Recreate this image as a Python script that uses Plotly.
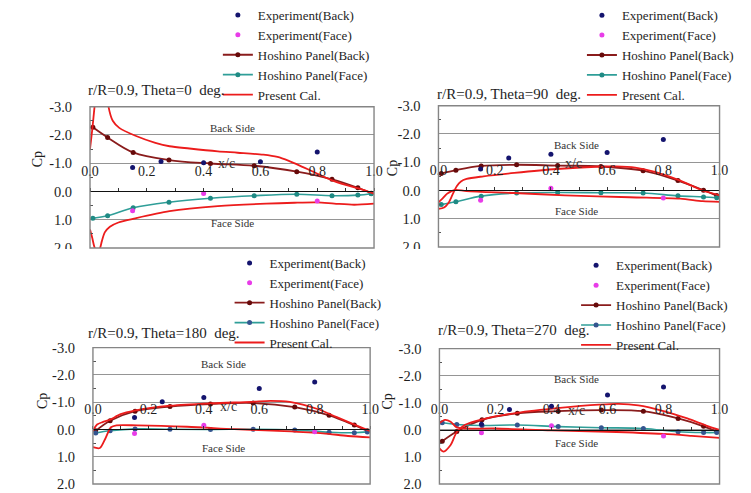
import plotly.graph_objects as go

W, H = 751, 493

# ---------------- data ----------------
y_tick_vals = [-3, -2, -1, 0, 1, 2]
y_tick_text = ["-3.0", "-2.0", "-1.0", "0.0", "1.0", "2.0"]
y_minor_vals = [-2.5, -1.5, -0.5, 0.5, 1.5]
x_tick_vals = [0.0, 0.2, 0.4, 0.6, 0.8, 1.0]
x_tick_text = ["0.0", "0.2", "0.4", "0.6", "0.8", "1.0"]
x_minor_vals = [0.1, 0.3, 0.5, 0.7, 0.9]

exp_back_x = [0.15, 0.25, 0.40, 0.60, 0.80]
exp_face_x = [0.15, 0.40, 0.80]
hoshino_x = [0.01, 0.062, 0.152, 0.278, 0.424, 0.578, 0.728, 0.852, 0.943, 0.99]

# Theta = 0 deg
exp_back_cp_0 = [-0.85, -1.06, -1.02, -1.05, -1.40]
exp_face_cp_0 = [0.68, 0.07, 0.34]
hoshino_back_cp_0 = [-2.27, -1.91, -1.38, -1.11, -0.99, -0.91, -0.70, -0.43, -0.13, 0.06]
hoshino_face_cp_0 = [0.95, 0.86, 0.58, 0.38, 0.24, 0.15, 0.10, 0.15, 0.13, 0.08]
present_back_x_0 = [0.0, 0.008, 0.016, 0.025, 0.04, 0.055, 0.065, 0.08, 0.103, 0.16, 0.23, 0.28,
                    0.35, 0.45, 0.52, 0.61, 0.66, 0.70, 0.75, 0.79, 0.85, 0.90, 0.94, 0.97, 1.0]
present_back_cp_0 = [-1.5, -2.2, -3.0, -3.8, -4.4, -3.9, -3.0, -2.5, -2.25, -1.97, -1.72, -1.60,
                     -1.52, -1.42, -1.37, -1.30, -1.22, -1.08, -0.86, -0.68, -0.40, -0.23, -0.12, -0.03, 0.08]
present_face_x_0 = [0.0, 0.008, 0.015, 0.024, 0.032, 0.042, 0.052, 0.07, 0.10, 0.16, 0.28, 0.45,
                    0.62, 0.72, 0.80, 0.86, 0.93, 1.0]
present_face_cp_0 = [1.35, 1.65, 1.95, 2.15, 2.10, 1.75, 1.45, 1.25, 1.10, 0.95, 0.70, 0.52,
                     0.43, 0.40, 0.39, 0.43, 0.47, 0.43]

# Theta = 90 deg
exp_back_cp_90 = [-0.76, -1.15, -1.28, -1.34, -1.80]
exp_face_cp_90 = [0.35, -0.08, 0.27]
hoshino_back_cp_90 = [-0.60, -0.72, -0.87, -0.91, -0.88, -0.85, -0.70, -0.35, -0.01, 0.18]
hoshino_face_cp_90 = [0.50, 0.40, 0.20, 0.09, 0.07, 0.08, 0.09, 0.19, 0.23, 0.26]
present_back_x_90 = [0.0, 0.02, 0.035, 0.05, 0.065, 0.08, 0.10, 0.16, 0.27, 0.42, 0.56, 0.63,
                     0.70, 0.77, 0.86, 0.94, 1.0]
present_back_cp_90 = [0.65, 0.60, 0.45, 0.15, -0.15, -0.32, -0.41, -0.50, -0.62, -0.76, -0.84, -0.85,
                      -0.81, -0.66, -0.35, 0.0, 0.17]
present_face_x_90 = [0.0, 0.015, 0.03, 0.045, 0.06, 0.10, 0.27, 0.45, 0.68, 0.86, 0.94, 1.0]
present_face_cp_90 = [0.42, 0.28, 0.12, 0.03, -0.02, 0.02, 0.09, 0.17, 0.24, 0.29, 0.38, 0.40]

# Theta = 180 deg
exp_back_cp_180 = [-0.44, -1.02, -1.17, -1.50, -1.74]
exp_face_cp_180 = [0.15, -0.15, 0.08]
hoshino_back_cp_180 = [0.05, -0.32, -0.67, -0.84, -0.93, -0.97, -0.82, -0.52, -0.16, 0.05]
hoshino_face_cp_180 = [0.13, 0.05, -0.02, -0.01, 0.0, -0.01, 0.02, 0.10, 0.12, 0.09]
present_back_x_180 = [0.0, 0.015, 0.035, 0.06, 0.10, 0.15, 0.28, 0.43, 0.57, 0.64, 0.71, 0.81,
                      0.88, 0.95, 1.0]
present_back_cp_180 = [0.05, -0.18, -0.27, -0.35, -0.56, -0.69, -0.87, -0.96, -1.01, -1.05, -1.01, -0.75,
                       -0.45, -0.15, 0.06]
present_face_x_180 = [0.0, 0.025, 0.045, 0.065, 0.085, 0.16, 0.34, 0.51, 0.69, 0.83, 0.92, 1.0]
present_face_cp_180 = [0.65, 0.68, 0.33, -0.08, -0.15, -0.15, -0.10, -0.01, 0.06, 0.14, 0.24, 0.29]

# Theta = 270 deg
exp_back_cp_270 = [-0.21, -0.75, -0.87, -1.29, -1.58]
exp_face_cp_270 = [0.11, -0.15, 0.23]
hoshino_back_cp_270 = [0.42, 0.06, -0.37, -0.61, -0.69, -0.73, -0.69, -0.42, -0.13, 0.06]
hoshino_face_cp_270 = [-0.26, -0.20, -0.16, -0.18, -0.12, -0.08, -0.05, 0.07, 0.10, 0.10]
present_back_x_270 = [0.0, 0.015, 0.04, 0.062, 0.09, 0.15, 0.278, 0.43, 0.57, 0.64, 0.71, 0.80,
                      0.885, 0.955, 1.0]
present_back_cp_270 = [0.68, 0.80, 0.56, 0.08, -0.18, -0.38, -0.63, -0.81, -0.93, -0.96, -0.90, -0.69,
                       -0.42, -0.15, 0.0]
present_face_x_270 = [0.0, 0.02, 0.04, 0.06, 0.09, 0.20, 0.40, 0.60, 0.80, 0.90, 1.0]
present_face_cp_270 = [-0.25, -0.37, -0.30, -0.10, -0.05, -0.05, 0.02, 0.07, 0.15, 0.22, 0.30]

titles = ["r/R=0.9, Theta=0  deg.", "r/R=0.9, Theta=90  deg.",
          "r/R=0.9, Theta=180  deg.", "r/R=0.9, Theta=270  deg."]
series_names = ["Experiment(Back)", "Experiment(Face)", "Hoshino Panel(Back)",
                "Hoshino Panel(Face)", "Present Cal."]

panels_data = [
    (exp_back_cp_0, exp_face_cp_0, hoshino_back_cp_0, hoshino_face_cp_0,
     present_back_x_0, present_back_cp_0, present_face_x_0, present_face_cp_0),
    (exp_back_cp_90, exp_face_cp_90, hoshino_back_cp_90, hoshino_face_cp_90,
     present_back_x_90, present_back_cp_90, present_face_x_90, present_face_cp_90),
    (exp_back_cp_180, exp_face_cp_180, hoshino_back_cp_180, hoshino_face_cp_180,
     present_back_x_180, present_back_cp_180, present_face_x_180, present_face_cp_180),
    (exp_back_cp_270, exp_face_cp_270, hoshino_back_cp_270, hoshino_face_cp_270,
     present_back_x_270, present_back_cp_270, present_face_x_270, present_face_cp_270),
]

# ---------------- layout geometry (pixels) ----------------
boxes = [(83, 374, 102, 248), (440, 728, 101, 247), (86, 370, 351, 492), (441, 728, 352, 492)]
title_pos = [(79, 85), (436, 89), (79, 336), (437, 333)]
cp_pos = [(30, 156), (393, 166), (35, 406), (388, 407)]
legend_pos = [(214, -8.5), (587, -8), (226, 248), (581, 250.5)]
back_lbl = [(0.50, -2.25), (0.49, -1.6), (0.47, -2.4), (0.49, -1.86)]
face_lbl = [(0.50, 1.11), (0.49, 0.73), (0.47, 0.69), (0.49, 0.5)]
xc_lbl = [(0.48, -0.98), (0.48, -0.95), (0.49, -0.85), (0.49, -0.72)]

FONT = "Liberation Serif, Times New Roman, serif"
C_EXP_B = "#14146e"
C_EXP_F = "#e83ce8"
C_HB_L = "#8a1c1c"
C_HB_M = "#660a0a"
C_HF_L = "#2f9e98"
C_HF_M_TOP = "#1f8a84"
C_HF_M_BOT = "#34558f"
C_RED = "#ec1c1c"
GRID = "#959595"
FRAME = "#858585"
TXT = "#1e1e1e"


def px2x(p):
    return p / W


def px2y(p):
    return 1 - p / H


fig = go.Figure()
layout = dict(
    width=W, height=H, margin=dict(l=0, r=0, t=0, b=0),
    paper_bgcolor="white", plot_bgcolor="white",
    font=dict(family=FONT, size=13, color=TXT),
    annotations=[], shapes=[],
)

for i, (eb, ef, hb, hf, pbx, pbc, pfx, pfc) in enumerate(panels_data):
    k = "" if i == 0 else str(i + 1)
    xa, ya = "x" + k, "y" + k
    lg = "legend" + k
    L, R, T, B = boxes[i]
    xd = [px2x(L), px2x(R)]
    yd = [px2y(B), px2y(T)]
    zero_pos = yd[0] + (yd[1] - yd[0]) * (2 - 0) / 5.0
    hf_marker = C_HF_M_TOP if i < 2 else C_HF_M_BOT

    fig.add_trace(go.Scatter(x=hoshino_x, y=hb, mode="lines+markers", name=series_names[2],
                             line=dict(color=C_HB_L, width=1.8, shape="spline", smoothing=1.0),
                             marker=dict(color=C_HB_M, size=5), xaxis=xa, yaxis=ya,
                             legend=lg, legendrank=3))
    fig.add_trace(go.Scatter(x=hoshino_x, y=hf, mode="lines+markers", name=series_names[3],
                             line=dict(color=C_HF_L, width=1.6, shape="spline", smoothing=1.0),
                             marker=dict(color=hf_marker, size=5), xaxis=xa, yaxis=ya,
                             legend=lg, legendrank=4))
    fig.add_trace(go.Scatter(x=pbx, y=pbc, mode="lines", name=series_names[4],
                             line=dict(color=C_RED, width=1.8, shape="spline", smoothing=0.8),
                             xaxis=xa, yaxis=ya, legend=lg, legendrank=5))
    fig.add_trace(go.Scatter(x=pfx, y=pfc, mode="lines", name=series_names[4], showlegend=False,
                             line=dict(color=C_RED, width=1.8, shape="spline", smoothing=0.8),
                             xaxis=xa, yaxis=ya, legend=lg))
    fig.add_trace(go.Scatter(x=exp_back_x, y=eb, mode="markers", name=series_names[0],
                             marker=dict(color=C_EXP_B, size=5), xaxis=xa, yaxis=ya,
                             legend=lg, legendrank=1))
    fig.add_trace(go.Scatter(x=exp_face_x, y=ef, mode="markers", name=series_names[1],
                             marker=dict(color=C_EXP_F, size=5), xaxis=xa, yaxis=ya,
                             legend=lg, legendrank=2))

    layout["xaxis" + k] = dict(
        domain=xd, range=[0, 1], anchor="free", position=zero_pos, side="top",
        tickmode="array", tickvals=x_tick_vals, ticktext=x_tick_text,
        ticks="outside", ticklen=3, tickcolor="#333", tickwidth=1,
        minor=dict(tickvals=x_minor_vals, ticks="outside", ticklen=3, tickcolor="#333"),
        showline=True, linecolor="#111", linewidth=1.3, showgrid=False, zeroline=False,
        ticklabelstandoff=7, tickfont=dict(size=14, family=FONT, color=TXT),
        fixedrange=True,
    )
    layout["yaxis" + k] = dict(
        domain=yd, range=[2, -3], anchor=xa,
        tickmode="array", tickvals=y_tick_vals, ticktext=y_tick_text,
        ticks="outside", ticklen=14, tickcolor="rgba(0,0,0,0)",
        minor=dict(tickvals=y_minor_vals, ticks="inside", ticklen=3, tickcolor="#555"),
        showgrid=True, gridcolor=GRID, gridwidth=1.3, zeroline=False, showline=False,
        tickfont=dict(size=14.5, family=FONT, color=TXT),
        fixedrange=True,
    )
    lx, ly = legend_pos[i]
    layout[lg] = dict(
        x=px2x(lx), y=px2y(ly), xanchor="left", yanchor="top",
        bgcolor="rgba(0,0,0,0)", borderwidth=0, tracegroupgap=0,
        font=dict(size=13, family=FONT, color=TXT), traceorder="normal",
    )
    layout["shapes"].append(dict(type="rect", xref=xa + " domain", yref=ya + " domain",
                                 x0=0, x1=1, y0=0, y1=1, line=dict(color=FRAME, width=1.4),
                                 layer="above"))
    tx, ty = title_pos[i]
    layout["annotations"].append(dict(text=titles[i], xref="paper", yref="paper",
                                      x=px2x(tx), y=px2y(ty), xanchor="left", yanchor="middle",
                                      showarrow=False, font=dict(size=15, family=FONT, color=TXT)))
    cx, cy = cp_pos[i]
    layout["annotations"].append(dict(text="Cp", xref="paper", yref="paper",
                                      x=px2x(cx), y=px2y(cy), xanchor="center", yanchor="middle",
                                      textangle=-90, showarrow=False,
                                      font=dict(size=14, family=FONT, color=TXT)))
    for (ax_, ay_), txt, fs in [(back_lbl[i], "Back Side", 11), (face_lbl[i], "Face Side", 11),
                                (xc_lbl[i], "x/c", 14)]:
        layout["annotations"].append(dict(text=txt, xref=xa, yref=ya, x=ax_, y=ay_,
                                          xanchor="center", yanchor="middle", showarrow=False,
                                          font=dict(size=fs, family=FONT, color="#333")))

# white strip: top panels are cut just below the Cp=2.0 line
layout["shapes"].append(dict(type="rect", xref="paper", yref="paper", x0=0, x1=1,
                             y0=px2y(258), y1=px2y(249), fillcolor="white",
                             line=dict(width=0), layer="above"))

fig.update_layout(**layout)
fig.write_html("out.html")
